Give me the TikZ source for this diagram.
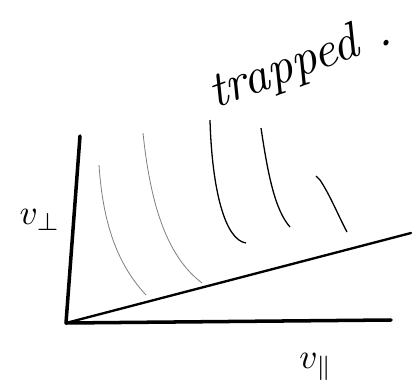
\documentclass[tikz,border=0pt]{standalone}
\usepackage{amsmath, amssymb}
\begin{document}
\begin{tikzpicture}[x=0.03cm, y=-0.03cm]
  \useasboundingbox (0,0) rectangle (418,391);
  \coordinate (o) at (66,323);
  \coordinate (top) at (80,136);
  \coordinate (right) at (391,320);
  \coordinate (cone) at (411,233);
  % axes and loss cone boundary
  \draw[line width=3pt, line cap=round, line join=round] (top) -- (o) -- (right);
  \draw[line width=2pt, line cap=round] (o) -- (cone);
  % trapped orbits
  \draw[gray, line width=0.7pt] (99,165) .. controls (103,225) and (118,265) .. (146,295);
  \draw[gray, line width=0.7pt] (143,133) .. controls (150,200) and (165,255) .. (202,283);
  \draw[line width=1.1pt] (210,120) .. controls (212,190) and (225,240) .. (246,243);
  \draw[line width=1.1pt] (261,128) .. controls (268,175) and (275,210) .. (290,227);
  \draw[line width=1.1pt] (316,176) -- (320,180) .. controls (330,195) and (338,215) .. (347,232);
  \node[scale=3] (vperp) at (40,220) {$v_\perp$};
  \node[scale=3] (vpar) at (316,367) {$v_\parallel$};
  \node[rotate=20, scale=4.3] (trap) at (300,64) {\itshape trapped\ .};
\end{tikzpicture}
\end{document}
